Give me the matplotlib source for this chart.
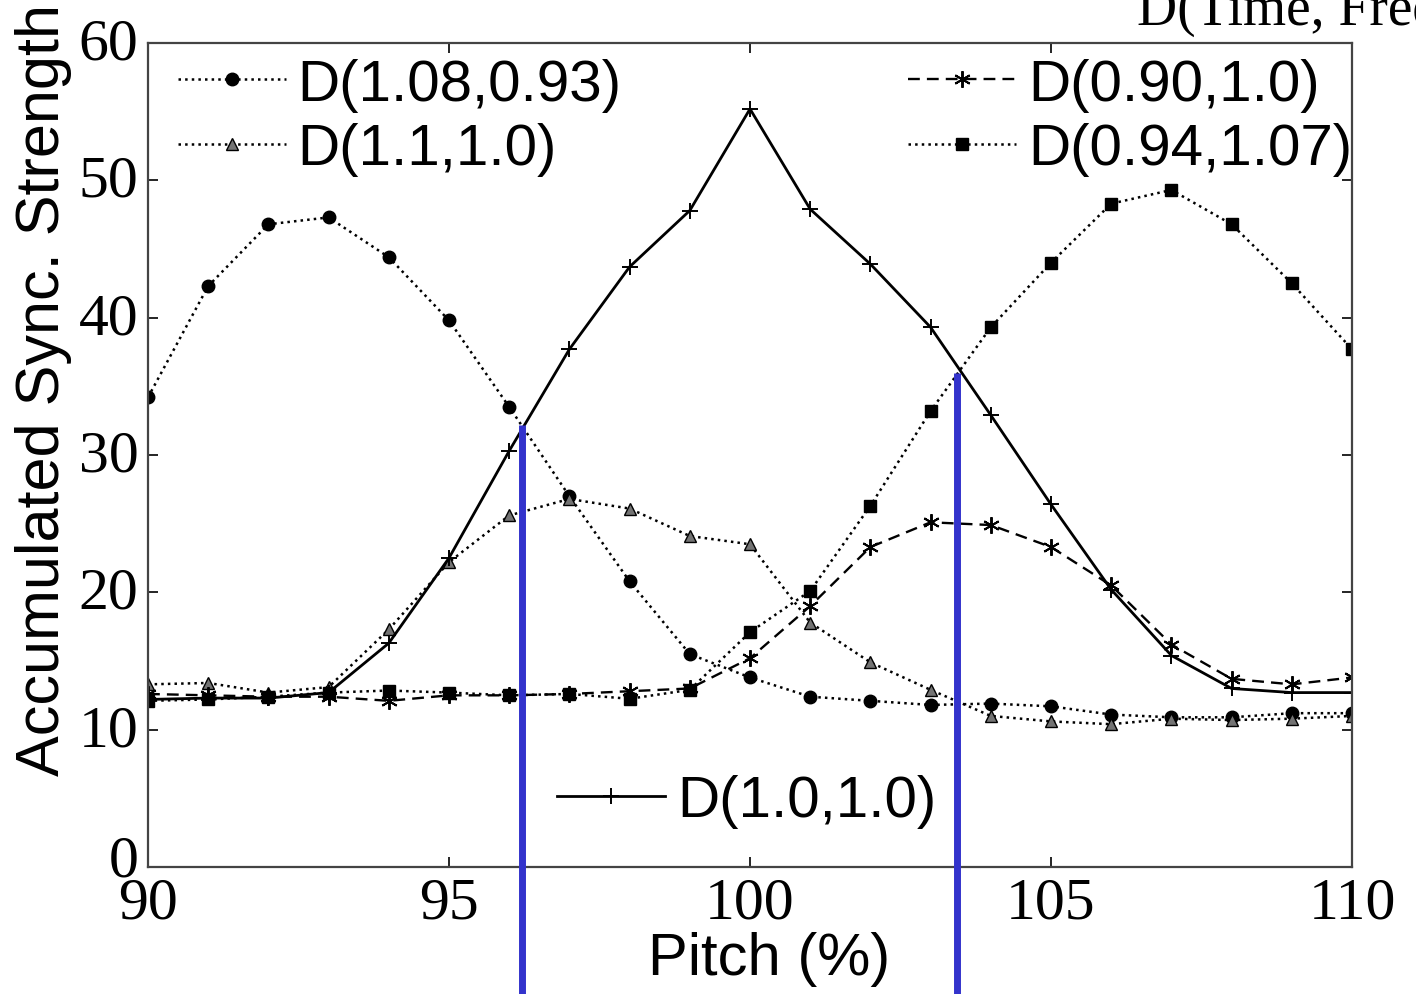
import matplotlib
matplotlib.use('Agg')
import matplotlib.pyplot as plt
import matplotlib.transforms as mtransforms
import numpy as np

pitch = list(range(90, 111))

# accumulated sync strength per tempo/pitch distortion
d108_093 = [34.2, 42.3, 46.8, 47.3, 44.4, 39.8, 33.5, 27.0, 20.8, 15.5, 13.8,
            12.4, 12.1, 11.8, 11.9, 11.7, 11.1, 10.9, 10.9, 11.2, 11.2]
d11_10 = [13.3, 13.4, 12.7, 13.1, 17.3, 22.2, 25.6, 26.8, 26.1, 24.1, 23.5,
          17.8, 14.9, 12.9, 11.0, 10.6, 10.4, 10.8, 10.7, 10.8, 11.0]
d090_10 = [12.6, 12.5, 12.4, 12.4, 12.1, 12.5, 12.5, 12.6, 12.8, 13.0, 15.2,
           19.0, 23.3, 25.1, 24.9, 23.3, 20.5, 16.2, 13.7, 13.3, 13.8]
d094_107 = [12.1, 12.2, 12.4, 12.7, 12.85, 12.7, 12.5, 12.6, 12.25, 12.9, 17.1,
            20.1, 26.3, 33.2, 39.3, 44.0, 48.3, 49.3, 46.8, 42.5, 37.7]
d10_10 = [12.2, 12.3, 12.3, 12.7, 16.3, 22.5, 30.3, 37.7, 43.7, 47.8, 55.2,
          47.9, 43.9, 39.3, 32.9, 26.4, 20.2, 15.4, 13.0, 12.7, 12.7]

# blue markers at the crossing points
cross_x = [96.21, 103.44]
cross_y = [32.2, 36.0]

sans = 'Liberation Sans'
serif = 'Liberation Serif'

fig = plt.figure(figsize=(14.16, 9.95), dpi=100)
ax = fig.add_axes([148/1416, 1-868/995, (1352-148)/1416, (868-44)/995])

l1, = ax.plot(pitch, d108_093, ':', color='k', lw=1.8, marker='o', ms=9, label='D(1.08,0.93)')
l2, = ax.plot(pitch, d11_10, ':', color='k', lw=1.8, marker='^', ms=9, mfc='0.45', mec='k', label='D(1.1,1.0)')
l3, = ax.plot(pitch, d090_10, color='k', lw=1.7, ls=(0, (5, 3)), marker=(6, 2, 0), ms=12, mew=1.4, label='D(0.90,1.0)')
l4, = ax.plot(pitch, d094_107, ':', color='k', lw=1.8, marker='s', ms=8, label='D(0.94,1.07)')
l5, = ax.plot(pitch, d10_10, '-', color='k', lw=2, marker='+', ms=11, mew=1.4, label='D(1.0,1.0)')

for x, y in zip(cross_x, cross_y):
	ax.plot([x, x], [-12, y], color='#3333cc', lw=5, clip_on=False, solid_capstyle='butt', zorder=5)

ax.set_xlim(90, 110)
ax.set_ylim(0, 60)
ax.set_xticks(range(90, 111, 5))
ax.set_yticks(range(0, 61, 10))
ax.tick_params(direction='in', length=7, width=1.2, top=True, right=True, labelsize=43, pad=7)
for lab in ax.get_xticklabels() + ax.get_yticklabels():
	lab.set_family(serif)
# nudge y tick labels up a little, as in the original ("0" a bit more)
ylabs = ax.get_yticklabels()
for i, lab in enumerate(ylabs):
	dy = 12 if i == 0 else 5
	lab.set_transform(lab.get_transform() + mtransforms.ScaledTranslation(0, dy/100, fig.dpi_scale_trans))
for sp in ax.spines.values():
	sp.set_color('#444444')
	sp.set_linewidth(1.6)

ax.set_xlabel('Pitch (%)', fontsize=43, family=sans)
ax.set_ylabel('Accumulated Sync. Strength', fontsize=44, family=sans)
ax.xaxis.set_label_coords(0.516, -0.078)
ax.yaxis.set_label_coords(-0.063, 0.58)

common = dict(frameon=False, borderpad=0, borderaxespad=0, handlelength=1.85, handletextpad=0.2,
	labelspacing=0.18, numpoints=1, prop={'family': sans, 'size': 42})
leg1 = ax.legend(handles=[l1, l2], loc='upper left', bbox_to_anchor=(0.025, 0.982), **common)
ax.add_artist(leg1)
leg2 = ax.legend(handles=[l3, l4], loc='upper right', bbox_to_anchor=(1.0, 0.982), **common)
ax.add_artist(leg2)
ax.legend(handles=[l5], loc='center left', bbox_to_anchor=(0.34, 0.08), **common)

fig.text(1137/1416, 1-25/995, 'D(Time, Freq)', fontsize=40, family=serif, va='baseline')

plt.savefig('out.png', dpi=100)
